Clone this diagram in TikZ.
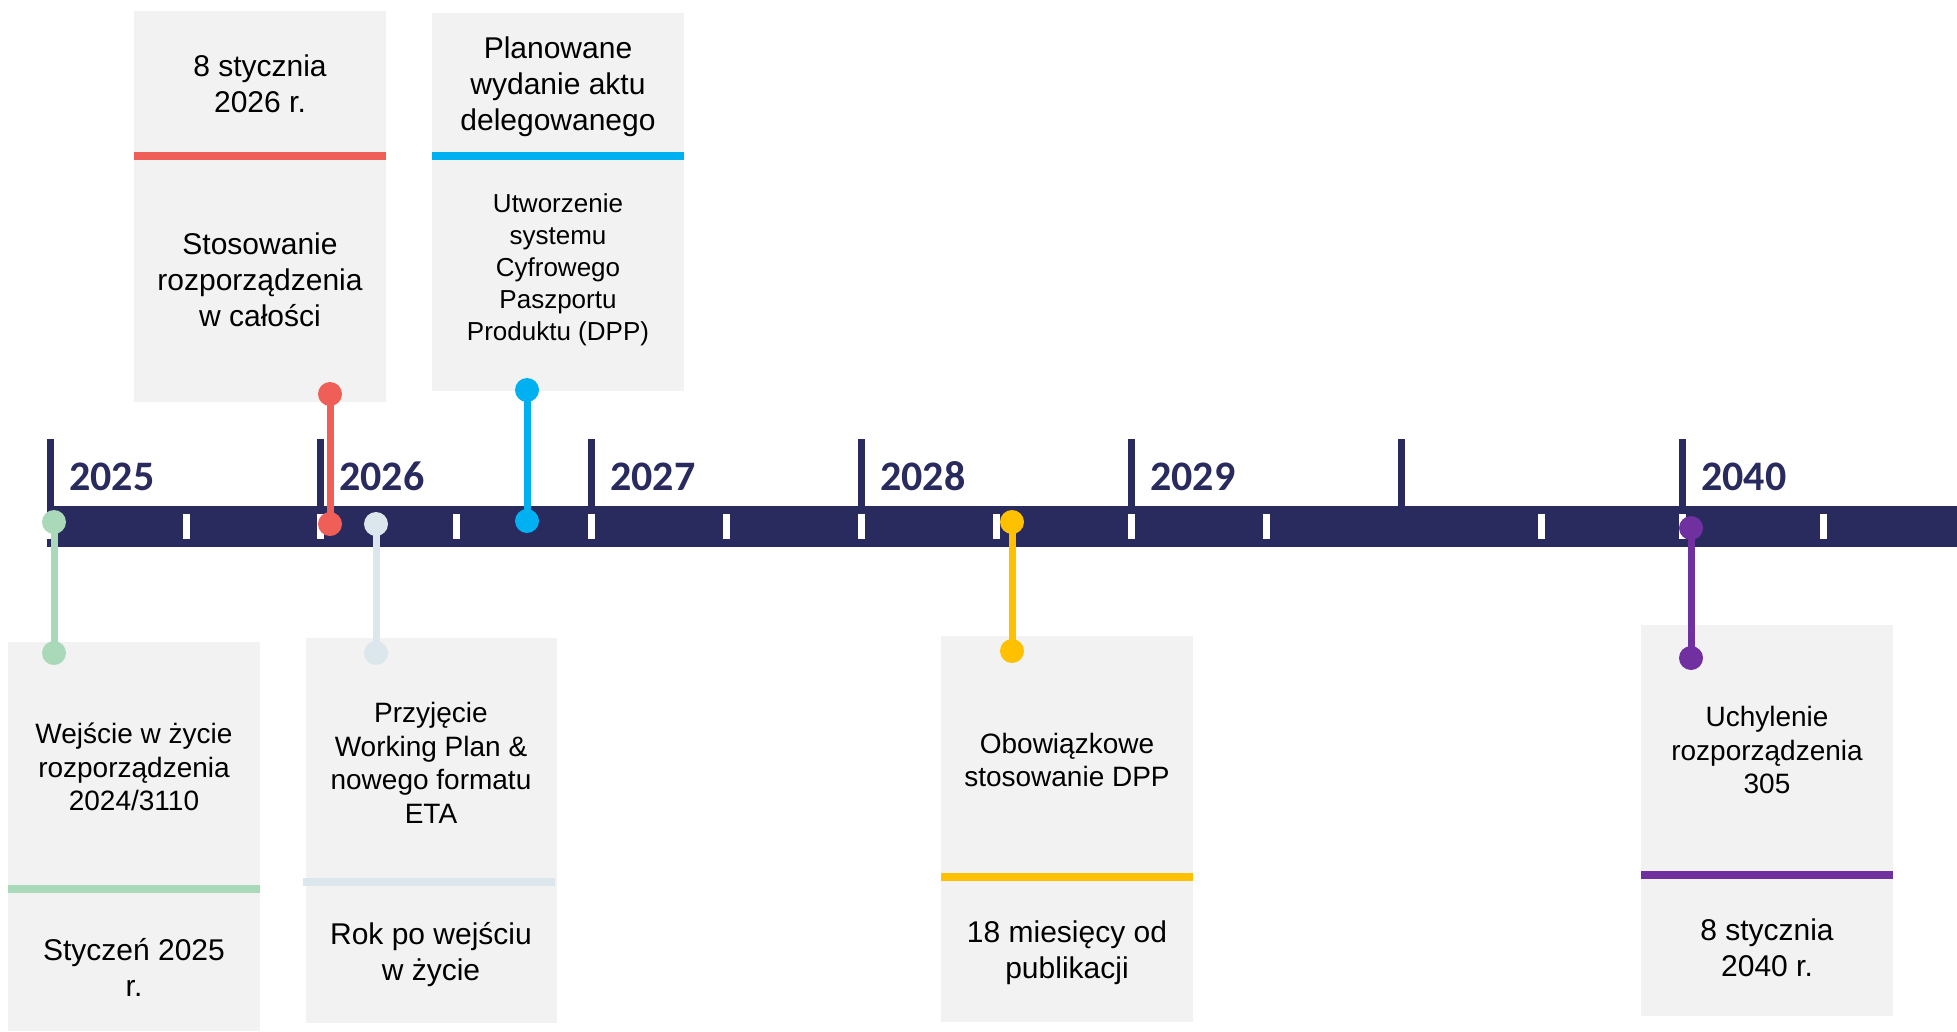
\documentclass[tikz,border=0pt]{standalone}
\usepackage{fontspec}
\setmainfont{Liberation Sans}
\newfontfamily\yearfont{Carlito}
\definecolor{navy}{RGB}{41,43,94}
\definecolor{boxgrey}{RGB}{242,242,242}
\definecolor{cgreen}{RGB}{169,217,184}
\definecolor{cred}{RGB}{239,95,88}
\definecolor{cpale}{RGB}{220,230,237}
\definecolor{cblue}{RGB}{0,176,240}
\definecolor{cyellow}{RGB}{255,192,0}
\definecolor{cpurple}{RGB}{112,48,160}
\begin{document}
\begin{tikzpicture}[x=1pt,y=-1pt,
  box/.style={fill=boxgrey, draw=none, anchor=north west, inner sep=0pt, minimum width=252pt},
  txt/.style={align=center, text=black, inner sep=0pt, font=\fontsize{28}{33.5}\selectfont},
  bigtxt/.style={align=center, text=black, inner sep=0pt, font=\fontsize{30}{36}\selectfont},
  smalltxt/.style={align=center, text=black, inner sep=0pt, font=\fontsize{26}{32}\selectfont},
  year/.style={anchor=base west, inner sep=0pt, text=navy, font=\yearfont\bfseries\fontsize{42}{44}\selectfont},
  stem/.style={line width=7pt},
  dot/.style={circle, inner sep=0pt, minimum size=24pt, draw=none}
]
\useasboundingbox (0,0) rectangle (1957,1031);
\fill[white] (0,0) rectangle (1957,1031);

% boxes
\node[box, minimum height=391pt] (redbox) at (134,11) {};
\node[box, minimum height=378pt] (bluebox) at (432,13) {};
\node[box, minimum height=389pt] (greenbox) at (8,642) {};
\node[box, minimum height=385pt, minimum width=251pt] (palebox) at (306,638) {};
\node[box, minimum height=386pt] (yellowbox) at (941,636) {};
\node[box, minimum height=391pt] (purplebox) at (1641,625) {};

% separators
\fill[cred] (134,152) rectangle (386,160);
\fill[cblue] (432,152) rectangle (684,160);
\fill[cgreen] (8,885) rectangle (260,893);
\fill[cpale] (303,878) rectangle (555,886);
\fill[cyellow] (941,873) rectangle (1193,881);
\fill[cpurple] (1641,871) rectangle (1893,879);

% texts
\node[bigtxt] (t1) at (260,84) {8 stycznia\\2026 r.};
\node[bigtxt] (t2) at (260,280) {Stosowanie\\rozporządzenia\\w całości};
\node[bigtxt] (t3) at (558,87) {Planowane\\wydanie aktu\\delegowanego};
\node[smalltxt] (t4) at (558,270) {Utworzenie\\systemu\\Cyfrowego\\Paszportu\\Produktu (DPP)};
\node[txt] (t5) at (134,767) {Wejście w życie\\rozporządzenia\\2024/3110};
\node[bigtxt] (t6) at (134,967) {Styczeń 2025\\r.};
\node[txt] (t7) at (431,763) {Przyjęcie\\Working Plan \&\\nowego formatu\\ETA};
\node[bigtxt] (t8) at (431,955) {Rok po wejściu\\w życie};
\node[txt] (t9) at (1067,760) {Obowiązkowe\\stosowanie DPP};
\node[bigtxt] (t10) at (1067,953) {18 miesięcy od\\publikacji};
\node[txt] (t11) at (1767,750) {Uchylenie\\rozporządzenia\\305};
\node[bigtxt] (t12) at (1767,948) {8 stycznia\\2040 r.};

% timeline bar
\fill[navy] (47,506) rectangle (1957,547);
\foreach \x in {50,320,591,861,1131,1401,1682}
  \fill[navy] (\x-3.5,439) rectangle (\x+3.5,547);
\foreach \x in {50,186,320,456,591,726,861,996,1131,1266,1541,1682,1823}
  \fill[white] (\x-3.5,514) rectangle (\x+3.5,539);

% year labels
\node[year] (y1) at (69,490) {2025};
\node[year] (y2) at (339,490) {2026};
\node[year] (y3) at (610,490) {2027};
\node[year] (y4) at (880,490) {2028};
\node[year] (y5) at (1150,490) {2029};
\node[year] (y6) at (1701,490) {2040};

% lollipop anchors
\coordinate (ga) at (54,522);   \coordinate (gb) at (54,653);
\coordinate (ra) at (330,524);  \coordinate (rb) at (330,394);
\coordinate (pa) at (376,524);  \coordinate (pb) at (376,653);
\coordinate (ba) at (527,521);  \coordinate (bb) at (527,390);
\coordinate (ya) at (1012,522); \coordinate (yb) at (1012,651);
\coordinate (ua) at (1691,528); \coordinate (ub) at (1691,658);

\draw[stem, cgreen] (ga) -- (gb);
\draw[stem, cred] (ra) -- (rb);
\draw[stem, cpale] (pa) -- (pb);
\draw[stem, cblue] (ba) -- (bb);
\draw[stem, cyellow] (ya) -- (yb);
\draw[stem, cpurple] (ua) -- (ub);

\node[dot, fill=cgreen] (gdot1) at (ga) {};
\node[dot, fill=cgreen] (gdot2) at (gb) {};
\node[dot, fill=cred] (rdot1) at (ra) {};
\node[dot, fill=cred] (rdot2) at (rb) {};
\node[dot, fill=cpale] (pdot1) at (pa) {};
\node[dot, fill=cpale] (pdot2) at (pb) {};
\node[dot, fill=cblue] (bdot1) at (ba) {};
\node[dot, fill=cblue] (bdot2) at (bb) {};
\node[dot, fill=cyellow] (ydot1) at (ya) {};
\node[dot, fill=cyellow] (ydot2) at (yb) {};
\node[dot, fill=cpurple] (udot1) at (ua) {};
\node[dot, fill=cpurple] (udot2) at (ub) {};
\end{tikzpicture}
\end{document}
